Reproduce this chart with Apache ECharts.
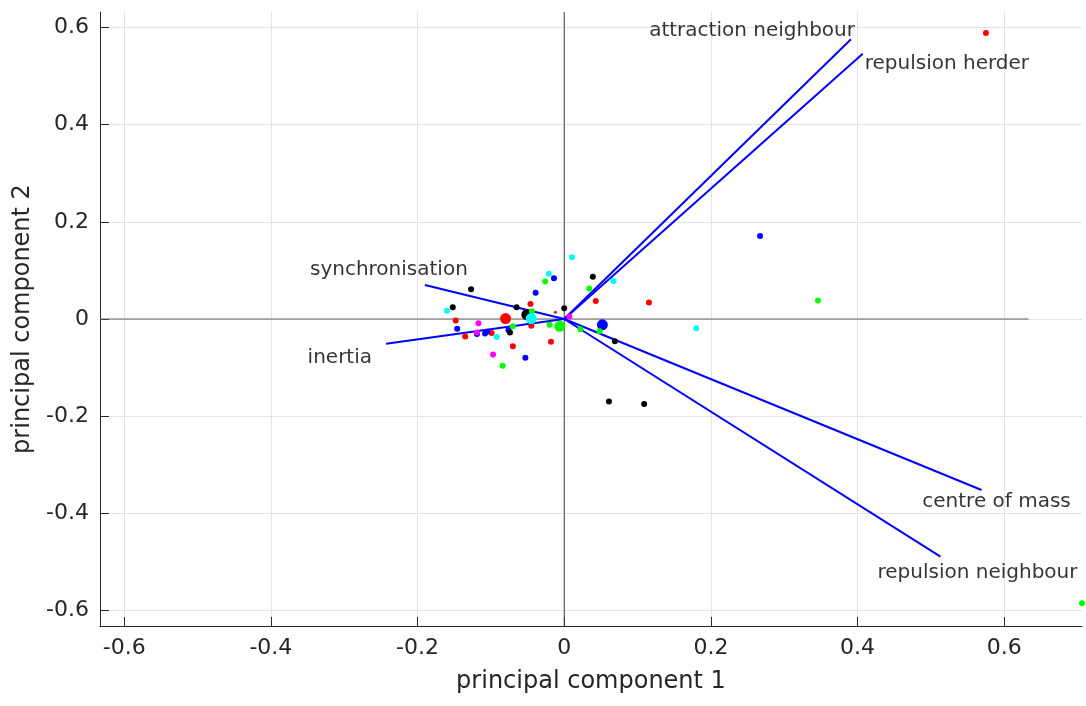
<!DOCTYPE html>
<html>
<head>
<meta charset="utf-8">
<script src="https://cdn.jsdelivr.net/npm/echarts@6/dist/echarts.min.js"></script>
<style>html,body{margin:0;padding:0;background:#fff}#c{width:1086px;height:706px}</style>
</head>
<body>
<div id="c"></div>
<script>
// ---- data ----
const xTicks = [-0.6, -0.4, -0.2, 0, 0.2, 0.4, 0.6];
const yTicks = [-0.6, -0.4, -0.2, 0, 0.2, 0.4, 0.6];
const xLimits = [-0.633, 0.706];
const yLimits = [-0.632, 0.632];
const refLen = 0.633;

const vecNames = ['attraction neighbour', 'repulsion herder', 'synchronisation', 'inertia', 'centre of mass', 'repulsion neighbour'];
const vecX = [0.391, 0.407, -0.190, -0.243, 0.569, 0.513];
const vecY = [0.576, 0.546, 0.070, -0.051, -0.352, -0.489];

const redPts = [[0.575, 0.589], [0.043, 0.037], [0.1155, 0.034], [-0.046, 0.031], [-0.148, -0.003], [-0.099, -0.029], [-0.135, -0.036], [-0.045, -0.014], [-0.018, -0.047], [-0.070, -0.056]];
const redTiny = [[-0.012, 0.014]];
const redMean = [[-0.080, 0.001]];

const bluePts = [[0.267, 0.171], [-0.014, 0.084], [-0.039, 0.054], [-0.146, -0.020], [-0.119, -0.031], [-0.108, -0.030], [-0.105, -0.026], [-0.053, -0.080], [-0.076, -0.023]];
const blueMean = [[0.052, -0.012]];

const blackPts = [[0.039, 0.087], [-0.127, 0.061], [-0.065, 0.024], [-0.152, 0.024], [0.000, 0.022], [-0.074, -0.028], [0.069, -0.046], [0.061, -0.170], [0.109, -0.175]];
const blackMean = [[-0.051, 0.009]];

const greenPts = [[-0.026, 0.077], [0.034, 0.063], [0.346, 0.038], [-0.044, 0.016], [-0.020, -0.012], [-0.070, -0.015], [0.022, -0.021], [0.048, -0.025], [-0.084, -0.096], [0.706, -0.585]];
const greenMean = [[-0.006, -0.015]];

const cyanPts = [[0.0105, 0.127], [-0.021, 0.093], [0.067, 0.078], [-0.160, 0.017], [-0.092, -0.037], [0.180, -0.019]];
const cyanMean = [[-0.045, 0.001]];

const magentaPts = [[0.007, 0.005], [-0.117, -0.009], [-0.119, -0.028], [-0.097, -0.073]];

// ---- styles (not data) ----
const labelStyle = {
  'attraction neighbour': {align: 'right', offset: [4, -8]},
  'repulsion herder': {align: 'left', offset: [2, 10]},
  'synchronisation': {align: 'center', offset: [-36, -15]},
  'inertia': {align: 'right', offset: [-14, 14]},
  'centre of mass': {align: 'center', offset: [15, 12]},
  'repulsion neighbour': {align: 'center', offset: [37, 16]}
};

const FONT = 'DejaVu Sans';
const fmt = v => { const r = Math.round(v * 10) / 10; return r === 0 ? '0' : String(r); };

const series = [];
// reference axes lines through origin
series.push({
  type: 'line', data: [[-refLen, 0], [refLen, 0]], symbol: 'none', silent: true,
  lineStyle: {color: '#606060', width: 1}, z: 1
});
series.push({
  type: 'line', data: [[0, yLimits[0]], [0, yLimits[1]]], symbol: 'none', silent: true,
  lineStyle: {color: '#404040', width: 1}, z: 1
});
// vectors
vecNames.forEach((n, i) => {
  series.push({
    type: 'line', data: [[0, 0], [vecX[i], vecY[i]]], symbol: 'none', silent: true,
    lineStyle: {color: '#0000ff', width: 2}, z: 2
  });
});
// vector labels
series.push({
  type: 'scatter', symbolSize: 0, silent: true, z: 5,
  itemStyle: {color: 'rgba(0,0,0,0)'},
  data: vecNames.map((n, i) => ({
    value: [vecX[i], vecY[i]], name: n,
    label: {show: true, position: 'inside', formatter: n, align: labelStyle[n].align,
      verticalAlign: 'middle', offset: labelStyle[n].offset,
      color: '#000000', textBorderWidth: 0, fontFamily: FONT, fontSize: 20}
  }))
});
function pts(data, color, size) {
  series.push({type: 'scatter', data: data, symbol: 'circle', symbolSize: size,
    itemStyle: {color: color, opacity: 1}, z: 4, silent: true});
}
pts(redPts, '#ff0000', 6); pts(redTiny, '#ff0000', 3); pts(redMean, '#ff0000', 11);
pts(bluePts, '#0000ff', 6); pts(blueMean, '#0000ff', 11);
pts(blackPts, '#000000', 6); pts(blackMean, '#000000', 11);
pts(greenPts, '#00ff00', 6); pts(greenMean, '#00ff00', 11);
pts(cyanPts, '#00ffff', 6); pts(cyanMean, '#00ffff', 11);
pts(magentaPts, '#ff00ff', 6);

const axisCommon = {
  type: 'value',
  nameLocation: 'middle',
  nameTextStyle: {fontFamily: FONT, fontSize: 24, color: '#262626'},
  axisLine: {show: true, onZero: false, lineStyle: {color: '#262626', width: 1}},
  axisTick: {show: true, inside: true, length: 9, lineStyle: {color: '#262626'}},
  axisLabel: {fontFamily: FONT, fontSize: 22, color: '#262626', margin: 11, formatter: fmt, showMinLabel: true, showMaxLabel: true},
  splitLine: {show: true, lineStyle: {color: '#e3e3e3', width: 1}}
};

const option = {
  animation: false,
  grid: {left: 100, right: 4, top: 12, bottom: 80, containLabel: false},
  xAxis: Object.assign({}, axisCommon, {
    name: 'principal component 1', nameGap: 44,
    min: xLimits[0], max: xLimits[1],
    axisTick: Object.assign({}, axisCommon.axisTick, {customValues: xTicks}),
    axisLabel: Object.assign({}, axisCommon.axisLabel, {customValues: xTicks})
  }),
  yAxis: Object.assign({}, axisCommon, {
    name: 'principal component 2', nameGap: 58, nameRotate: 90,
    min: yLimits[0], max: yLimits[1],
    axisTick: Object.assign({}, axisCommon.axisTick, {customValues: yTicks}),
    axisLabel: Object.assign({}, axisCommon.axisLabel, {customValues: yTicks})
  }),
  series: series
};
echarts.init(document.getElementById('c')).setOption(option);
</script>
</body>
</html>
